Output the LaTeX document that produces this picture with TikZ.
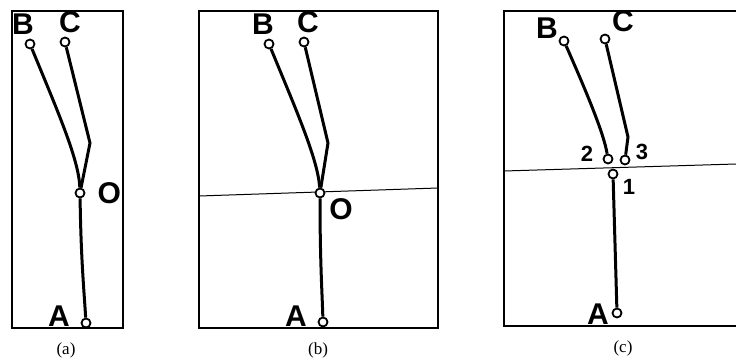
\documentclass[tikz,border=0pt]{standalone}
\usepackage{fontspec}
\setmainfont{Liberation Serif}
\newfontfamily\lblfont{Liberation Sans}
\usepackage{tikz}
\usetikzlibrary{positioning}

\begin{document}
\begin{tikzpicture}[x=1pt, y=-1pt,
		joint/.style={circle, draw, line width=1.8pt, fill=white, inner sep=0pt, minimum size=9pt},
		rod/.style={line width=3pt},
		frame/.style={line width=2pt},
		cut/.style={line width=1pt},
		lbl/.style={font=\lblfont\bfseries\fontsize{30}{30}\selectfont, inner sep=0pt},
		num/.style={font=\lblfont\bfseries\fontsize{22}{22}\selectfont, inner sep=0pt},
		subcap/.style={font=\fontsize{17}{17}\selectfont, inner sep=0pt}]
		\useasboundingbox (0,0) rectangle (736,361);
		
		% (a)
		\draw[frame] (12,11) rectangle (123,328);
		\node[lbl] at (23,24) {B};
		\node[lbl] at (70,22) {C};
		\node[joint] (aB) at (30,44) {};
		\node[joint] (aC) at (65,42) {};
		\node[joint] (aO) at (80,193) {};
		\node[joint] (aA) at (86,323) {};
		\coordinate (aK) at (90,143);
		\draw[rod] (aB) .. controls (58,112) and (79,160) .. (aO);
		\draw[rod] (aC) -- (aK) -- (aO);
		\draw[rod] (aO) .. controls (81,260) and (84,290) .. (aA);
		\node[lbl, right=12pt of aO] {O};
		\node[lbl] at (59,316) {A};
		\node[subcap] at (66,350) {(a)};
		
		% (b)
		\draw[frame] (199,11) rectangle (438,328);
		\draw[cut] (199,196) -- (438,188);
		\node[lbl] at (263,24) {B};
		\node[lbl] at (308,22) {C};
		\node[joint] (bB) at (269,44) {};
		\node[joint] (bC) at (304,42) {};
		\node[joint] (bO) at (320,193) {};
		\node[joint] (bA) at (323,322) {};
		\coordinate (bK) at (328,143);
		\draw[rod] (bB) .. controls (297,112) and (318,160) .. (bO);
		\draw[rod] (bC) -- (bK) -- (bO);
		\draw[rod] (bO) .. controls (320,260) and (322,290) .. (bA);
		\node[lbl] at (341,209) {O};
		\node[lbl] at (296,316) {A};
		\node[subcap] at (318,350) {(b)};
		
		% (c)
		\draw[frame] (736,11) -- (504,11) -- (504,326) -- (736,326);
		\draw[cut] (504,171) -- (736,164);
		\node[lbl] at (547,28) {B};
		\node[lbl] at (623,21) {C};
		\node[joint] (cB) at (564,41) {};
		\node[joint] (cC) at (605,39) {};
		\node[joint] (c2) at (608,159) {};
		\node[joint] (c3) at (625,160) {};
		\node[joint] (c1) at (613,174) {};
		\node[joint] (cA) at (617,313) {};
		\coordinate (cK) at (628,137);
		\draw[rod] (cB) .. controls (590,100) and (604,135) .. (c2);
		\draw[rod] (cC) -- (cK) -- (c3);
		\draw[rod] (c1) -- (cA);
		\node[num] at (587,154) {2};
		\node[num] at (642,152) {3};
		\node[num] at (629,187) {1};
		\node[lbl] at (598,314) {A};
		\node[subcap] at (623,348) {(c)};
	\end{tikzpicture}
\end{document}
